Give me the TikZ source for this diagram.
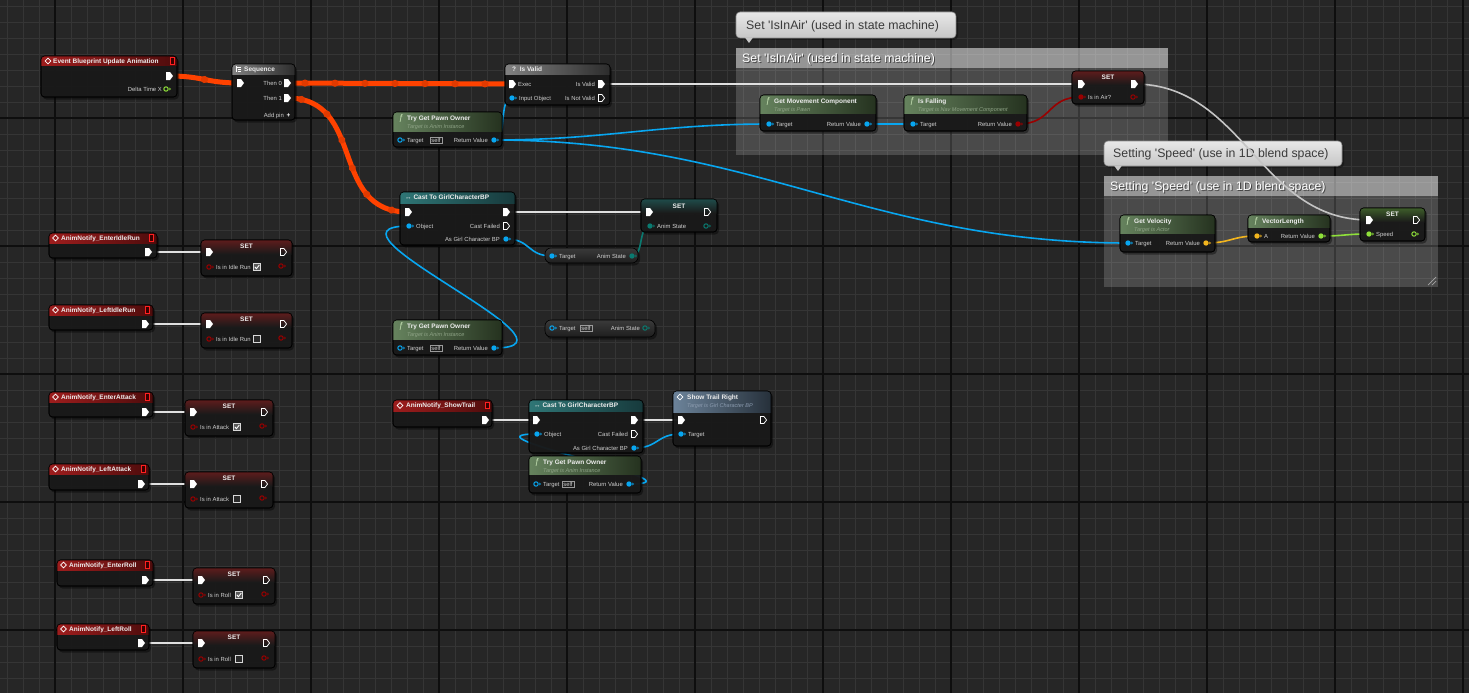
\documentclass[tikz,border=0pt]{standalone}
\usepackage{fontspec}
\setmainfont{Liberation Sans}
\usetikzlibrary{decorations.markings}
\pgfdeclarelayer{grid}
\pgfdeclarelayer{comments}
\pgfdeclarelayer{wires}
\pgfsetlayers{grid,comments,wires,main}

\definecolor{bgc}{HTML}{262626}
\definecolor{minorc}{HTML}{353535}
\definecolor{majorc}{HTML}{0E0E0E}
\definecolor{nodebg}{HTML}{1A1A1A}
\definecolor{titletext}{HTML}{EDEDED}
\definecolor{pintext}{HTML}{CFCFCF}
\definecolor{subtext}{HTML}{8FA487}
\definecolor{subblue}{HTML}{8C9CB0}
\definecolor{fnicon}{HTML}{C6E2B4}
\definecolor{hot}{HTML}{FF4200}
\definecolor{hotd}{HTML}{E23A00}
\definecolor{wirew}{HTML}{E0E0E0}
\definecolor{wireg}{HTML}{C4C4C4}
\definecolor{objblue}{HTML}{08A6F0}
\definecolor{boolred}{HTML}{9A0000}
\definecolor{floatgreen}{HTML}{8FE03A}
\definecolor{vecyellow}{HTML}{F2B51E}
\definecolor{byteteal}{HTML}{0A7A70}
\definecolor{evL}{HTML}{9E1D1D}
\definecolor{evR}{HTML}{4E0C0C}
\definecolor{fnL}{HTML}{66835E}
\definecolor{fnR}{HTML}{25321F}
\definecolor{grL}{HTML}{828282}
\definecolor{grR}{HTML}{2C2C2C}
\definecolor{caL}{HTML}{2F7676}
\definecolor{caR}{HTML}{173A3C}
\definecolor{blL}{HTML}{6C839A}
\definecolor{blR}{HTML}{26303A}
\definecolor{setred}{HTML}{5E1C1C}
\definecolor{setgreen}{HTML}{3E5E2A}
\definecolor{setteal}{HTML}{1F4C4A}
\definecolor{cTop}{HTML}{3A3A3A}
\definecolor{cBot}{HTML}{1E1E1E}
\definecolor{evsqc}{HTML}{FF2020}
\definecolor{evsqfill}{HTML}{3A0000}
\definecolor{selfc}{HTML}{9A9A9A}
\definecolor{chkc}{HTML}{D8D8D8}
\definecolor{chkbg}{HTML}{5A5A5A}
\definecolor{chkbg2}{HTML}{2A2A2A}
\definecolor{bubT}{HTML}{E8E8E8}
\definecolor{bubB}{HTML}{C6C6C6}
\definecolor{bubD}{HTML}{8E8E8E}
\definecolor{bubtext}{HTML}{3A3A3A}

\newcommand{\ttlfont}{\fontsize{6.5}{7}\selectfont\bfseries}
\newcommand{\pinfont}{\fontsize{5.9}{6.5}\selectfont}
\newcommand{\subfontx}{\fontsize{5.5}{6}\selectfont\itshape}
\newcommand{\fnfont}{\fontsize{8.5}{9}\selectfont\itshape}
\newcommand{\cmtfont}{\fontsize{12.3}{14}\selectfont}
\newcommand{\apo}{\textquotesingle}

\tikzset{
  nbody/.style={fill=nodebg, fill opacity=0.95, draw=black, line width=0.6, rounded corners=3.5pt, inner sep=0pt, outer sep=0pt},
  cbody/.style={top color=cTop, bottom color=cBot, draw=black, line width=0.6, rounded corners=6pt, inner sep=0pt, outer sep=0pt},
  ttlst/.style={font=\ttlfont, text=titletext, anchor=west, inner sep=0pt, text height=4.7pt, text depth=0pt},
  plbl/.style={font=\pinfont, text=pintext, inner sep=0pt, text height=4.2pt, text depth=0pt},
  subst/.style={font=\subfontx, text=subtext, anchor=west, inner sep=0pt, text height=4pt, text depth=0pt},
  fnst/.style={font=\fnfont, text=fnicon, inner sep=0pt},
  hEv/.style={left color=evL, right color=evR},
  hFn/.style={left color=fnL, right color=fnR},
  hGr/.style={left color=grL, right color=grR},
  hCa/.style={left color=caL, right color=caR},
  hBl/.style={left color=blL, right color=blR},
  hSr/.style={top color=setred, bottom color=nodebg},
  hSg/.style={top color=setgreen, bottom color=nodebg},
  hSt/.style={top color=setteal, bottom color=nodebg},
  wireX/.style={draw=wirew, line width=1.8},
  wireG/.style={draw=wireg, line width=1.6},
  wireO/.style={draw=objblue, line width=1.6},
  wireB/.style={draw=boolred, line width=1.6},
  wireY/.style={draw=vecyellow, line width=1.6},
  wireF/.style={draw=floatgreen, line width=1.6},
  wireT/.style={draw=byteteal, line width=1.6},
  hotw/.style={draw=hot, line width=5, line cap=round, postaction={decorate},
    decoration={markings, mark=between positions 0.08 and 0.95 step 30pt with {\fill[hotd] (0,0) circle (3.6);}}},
  cmtbody/.style={fill=white, fill opacity=0.17, inner sep=0pt, outer sep=0pt},
  cmthdr/.style={fill=white, fill opacity=0.42, inner sep=0pt, outer sep=0pt},
  cmttxt/.style={font=\cmtfont, text=white, anchor=west, inner sep=0pt, text height=8.8pt, text depth=0pt},
  bubble/.style={top color=bubT, bottom color=bubB, draw=bubD, line width=0.6, rounded corners=4pt, inner sep=0pt, outer sep=0pt},
  bubtxt/.style={font=\cmtfont, text=bubtext, anchor=west, inner sep=0pt, text height=8.8pt, text depth=0pt},
}

\newcommand{\bpbox}[7]{%
  \fill[black, opacity=0.4, rounded corners=4pt] ({#2+1.5},{#3+2}) rectangle ({#4+2},{#5+2.5});
  \node[nbody, anchor=north west, minimum width={#4-#2}, minimum height={#5-#3}] (#1) at (#2,#3) {};
  \begin{scope}
    \clip[rounded corners=3.5pt] (#2,#3) rectangle (#4,#5);
    \shade[#7] (#2,#3) rectangle (#4,{#3+#6});
  \end{scope}
  \draw[black, line width=0.6, rounded corners=3.5pt] (#2,#3) rectangle (#4,#5);}
\newcommand{\cbox}[5]{%
  \fill[black, opacity=0.4, rounded corners=6pt] ({#2+1.5},{#3+2}) rectangle ({#4+2},{#5+2.5});
  \node[cbody, anchor=north west, minimum width={#4-#2}, minimum height={#5-#3}] (#1) at (#2,#3) {};}
\newcommand{\pinX}[3]{\coordinate (#1) at (#2,#3);
  \fill[white] ({#2-3},{#3-4}) -- ({#2+1},{#3-4}) -- ({#2+4},{#3}) -- ({#2+1},{#3+4}) -- ({#2-3},{#3+4}) -- cycle;}
\newcommand{\pinXo}[3]{\coordinate (#1) at (#2,#3);
  \draw[white, line width=0.75, line join=round] ({#2-2.6},{#3-3.6}) -- ({#2+0.8},{#3-3.6}) -- ({#2+3.6},{#3}) -- ({#2+0.8},{#3+3.6}) -- ({#2-2.6},{#3+3.6}) -- cycle;}
\newcommand{\pinD}[4]{\coordinate (#1) at (#2,#3);
  \fill[#4] (#2,#3) circle (2.7);
  \fill[#4] ({#2+3.4},{#3-1.4}) -- ({#2+5},{#3}) -- ({#2+3.4},{#3+1.4}) -- cycle;}
\newcommand{\pinDo}[4]{\coordinate (#1) at (#2,#3);
  \draw[#4, line width=1] (#2,#3) circle (2.2);
  \fill[#4] ({#2+3.4},{#3-1.4}) -- ({#2+5},{#3}) -- ({#2+3.4},{#3+1.4}) -- cycle;}
\newcommand{\lblW}[4]{\node[plbl, anchor=west] (#1) at (#2,#3) {#4};}
\newcommand{\lblE}[4]{\node[plbl, anchor=east] (#1) at (#2,#3) {#4};}
\newcommand{\bptitle}[4]{\node[ttlst] (#1) at (#2,#3) {#4};}
\newcommand{\bpsetttl}[3]{\node[ttlst, anchor=center] (#1) at (#2,#3) {SET};}
\newcommand{\bpsub}[4]{\node[subst] (#1) at (#2,#3) {#4};}
\newcommand{\bpfn}[3]{\node[fnst] (#1) at (#2,#3) {ƒ};}
\newcommand{\evic}[3]{\coordinate (#1) at (#2,#3);
  \draw[white, line width=0.7] ({#2},{#3-2.8}) -- ({#2+2.8},{#3}) -- ({#2},{#3+2.8}) -- ({#2-2.8},{#3}) -- cycle;}
\newcommand{\evsq}[3]{\node[draw=evsqc, line width=0.8, fill=evsqfill, minimum width=4.5pt, minimum height=6.5pt, inner sep=0pt] (#1) at (#2,#3) {};}
\newcommand{\selfbox}[3]{\node[draw=selfc, line width=0.5, font=\pinfont, text=pintext, inner xsep=1.5pt, inner ysep=1pt, text height=4.2pt, text depth=0pt] (#1) at (#2,#3) {self};}
\newcommand{\chkon}[3]{\node[draw=chkc, fill=chkbg, line width=0.7, minimum size=7pt, inner sep=0pt] (#1) at (#2,#3) {};
  \draw[white, line width=0.9] ({#2-2.2},{#3-0.2}) -- ({#2-0.6},{#3+1.7}) -- ({#2+2.3},{#3-2});}
\newcommand{\chkoff}[3]{\node[draw=chkc, fill=chkbg2, line width=0.7, minimum size=7pt, inner sep=0pt] (#1) at (#2,#3) {};}

\begin{document}
\begin{tikzpicture}[x=1pt, y=-1pt]
\useasboundingbox (0,0) rectangle (1469,693);

% ---------------- grid ----------------
\begin{pgfonlayer}{grid}
\fill[bgc] (0,0) rectangle (1469,693);
\foreach \gx in {7,23,...,1469} \draw[minorc, line width=0.9] (\gx,0) -- (\gx,693);
\foreach \gy in {6,22,...,693} \draw[minorc, line width=0.9] (0,\gy) -- (1469,\gy);
\foreach \gx in {55,183,...,1469} \draw[majorc, line width=1.4] (\gx,0) -- (\gx,693);
\foreach \gy in {118,246,...,693} \draw[majorc, line width=1.4] (0,\gy) -- (1469,\gy);
\end{pgfonlayer}

% ---------------- comments ----------------
\begin{pgfonlayer}{comments}
\node[cmtbody, anchor=north west, minimum width=432pt, minimum height=107pt] (c1) at (736,48) {};
\node[cmthdr, anchor=north west, minimum width=432pt, minimum height=20pt] (c1h) at (736,48) {};
\node[cmttxt, text=black, text opacity=0.55] (c1ts) at (743,59) {Set \apo IsInAir\apo\ (used in state machine)};
\node[cmttxt] (c1t) at (742,58) {Set \apo IsInAir\apo\ (used in state machine)};
\fill[black, opacity=0.3, rounded corners=4pt] (737.5,14) rectangle (958,40);
\node[bubble, anchor=north west, minimum width=220pt, minimum height=26pt] (c1b) at (736,12) {};
\fill[bubB] (745,37.5) -- (753,37.5) -- (749,43) -- cycle;
\node[bubtxt] (c1bt) at (746,25) {Set \apo IsInAir\apo\ (used in state machine)};

\node[cmtbody, anchor=north west, minimum width=334pt, minimum height=111pt] (c2) at (1104,176) {};
\node[cmthdr, anchor=north west, minimum width=334pt, minimum height=20pt] (c2h) at (1104,176) {};
\node[cmttxt, text=black, text opacity=0.55] (c2ts) at (1111,187) {Setting \apo Speed\apo\ (use in 1D blend space)};
\node[cmttxt] (c2t) at (1110,186) {Setting \apo Speed\apo\ (use in 1D blend space)};
\draw[white, opacity=0.5, line width=0.7] (1428,285) -- (1436,277) (1432,285) -- (1436,281);
\fill[black, opacity=0.3, rounded corners=4pt] (1105.5,143) rectangle (1344,168);
\node[bubble, anchor=north west, minimum width=238pt, minimum height=25pt] (c2b) at (1104,141) {};
\fill[bubB] (1114,165.5) -- (1122,165.5) -- (1118,171) -- cycle;
\node[bubtxt] (c2bt) at (1113,153.5) {Setting \apo Speed\apo\ (use in 1D blend space)};
\end{pgfonlayer}

% ---------------- Event Blueprint Update Animation ----------------
\bpbox{ev}{41}{56}{177}{97}{10}{hEv}
\evic{ev-ic}{48}{61}
\bptitle{ev-t}{53}{61}{Event Blueprint Update Animation}
\evsq{ev-sq}{172.5}{61}
\pinX{ev-x}{169}{76}
\lblE{ev-dtl}{162}{89}{Delta Time X}
\pinDo{ev-dt}{166}{89}{floatgreen}

% ---------------- Sequence ----------------
\bpbox{seq}{232}{64}{295}{120}{10}{hGr}
\draw[white, line width=0.6] (236,66.5) -- (236,71.5) (236,67) -- (241,67) (237.5,69) -- (241,69) (237.5,71) -- (241,71);
\bptitle{seq-t}{244}{69}{Sequence}
\pinX{seq-in}{240}{83}
\lblE{seq-t0l}{282}{83}{Then 0}
\pinX{seq-t0}{287}{83}
\lblE{seq-t1l}{282}{98}{Then 1}
\pinX{seq-t1}{287}{98}
\lblE{seq-apl}{284}{115}{Add pin}
\node[ttlst, anchor=center, text=white] (seq-plus) at (288.5,115) {+};

% ---------------- Is Valid ----------------
\bpbox{isv}{505}{64}{610}{105}{10}{hGr}
\bptitle{isv-t}{512}{69}{?\ \ Is Valid}
\pinX{isv-in}{512}{84}
\lblW{isv-inl}{518}{84}{Exec}
\pinD{isv-obj}{512}{98}{objblue}
\lblW{isv-objl}{519}{98}{Input Object}
\lblE{isv-vl}{595}{84}{Is Valid}
\pinX{isv-v}{601}{84}
\lblE{isv-nvl}{595}{98}{Is Not Valid}
\pinXo{isv-nv}{601}{98}

% ---------------- Try Get Pawn Owner 1 ----------------
\bpbox{tg1}{393}{112}{502}{147}{19}{hFn}
\bpfn{tg1-ic}{401}{118}
\bptitle{tg1-t}{407}{118}{Try Get Pawn Owner}
\bpsub{tg1-s}{407}{126.5}{Target is Anim Instance}
\pinDo{tg1-tg}{400}{140}{objblue}
\lblW{tg1-tgl}{407}{140}{Target}
\selfbox{tg1-self}{436}{140}
\lblE{tg1-rvl}{488}{140}{Return Value}
\pinD{tg1-rv}{494}{140}{objblue}

% ---------------- Cast To GirlCharacterBP 1 ----------------
\bpbox{cast1}{400}{192}{515}{245}{11}{hCa}
\bptitle{cast1-t}{405}{197.5}{↔ Cast To GirlCharacterBP}
\pinX{cast1-in}{408}{212}
\pinX{cast1-out}{506}{212}
\pinD{cast1-obj}{409}{226}{objblue}
\lblW{cast1-objl}{416}{226}{Object}
\lblE{cast1-cfl}{500}{226}{Cast Failed}
\pinXo{cast1-cf}{506}{226}
\lblE{cast1-agl}{500}{239}{As Girl Character BP}
\pinD{cast1-ag}{506}{239}{objblue}

% ---------------- SET Anim State ----------------
\bpbox{setas}{641}{199}{717}{232}{14}{hSt}
\bpsetttl{setas-t}{679}{206}
\pinX{setas-in}{649}{212}
\pinXo{setas-out}{707}{212}
\pinD{setas-v}{650}{226}{byteteal}
\lblW{setas-vl}{657}{226}{Anim State}
\pinDo{setas-o}{706}{226}{byteteal}

% ---------------- Get Anim State ----------------
\cbox{gas}{545}{248}{638}{263}
\pinD{gas-tg}{552}{256}{objblue}
\lblW{gas-tgl}{559}{256}{Target}
\lblE{gas-asl}{626}{256}{Anim State}
\pinD{gas-as}{632}{256}{byteteal}

% ---------------- Try Get Pawn Owner 2 ----------------
\bpbox{tg2}{393}{320}{502}{355}{19}{hFn}
\bpfn{tg2-ic}{401}{326}
\bptitle{tg2-t}{407}{326}{Try Get Pawn Owner}
\bpsub{tg2-s}{407}{334.5}{Target is Anim Instance}
\pinDo{tg2-tg}{400}{348}{objblue}
\lblW{tg2-tgl}{407}{348}{Target}
\selfbox{tg2-self}{436}{348}
\lblE{tg2-rvl}{488}{348}{Return Value}
\pinD{tg2-rv}{494}{348}{objblue}

% ---------------- Get Anim State (self) ----------------
\cbox{gas2}{545}{320}{655}{337}
\pinDo{gas2-tg}{552}{328}{objblue}
\lblW{gas2-tgl}{559}{328}{Target}
\selfbox{gas2-self}{586}{328}
\lblE{gas2-asl}{640}{328}{Anim State}
\pinDo{gas2-as}{645}{328}{byteteal}

% ---------------- Get Movement Component ----------------
\bpbox{gmc}{760}{95}{876}{131}{18}{hFn}
\bpfn{gmc-ic}{768}{101}
\bptitle{gmc-t}{774}{101}{Get Movement Component}
\bpsub{gmc-s}{774}{109.5}{Target is Pawn}
\pinD{gmc-tg}{769}{124}{objblue}
\lblW{gmc-tgl}{776}{124}{Target}
\lblE{gmc-rvl}{861}{124}{Return Value}
\pinD{gmc-rv}{867}{124}{objblue}

% ---------------- Is Falling ----------------
\bpbox{isf}{904}{95}{1027}{131}{18}{hFn}
\bpfn{isf-ic}{912}{101}
\bptitle{isf-t}{918}{101}{Is Falling}
\bpsub{isf-s}{918}{109.5}{Target is Nav Movement Component}
\pinD{isf-tg}{913}{124}{objblue}
\lblW{isf-tgl}{920}{124}{Target}
\lblE{isf-rvl}{1012}{124}{Return Value}
\pinD{isf-rv}{1018}{124}{boolred}

% ---------------- SET Is in Air ----------------
\bpbox{setair}{1072}{71}{1144}{104}{14}{hSr}
\bpsetttl{setair-t}{1108}{77.5}
\pinX{setair-in}{1081}{84}
\pinX{setair-out}{1134}{84}
\pinD{setair-v}{1081}{97}{boolred}
\lblW{setair-vl}{1088}{97}{Is in Air?}
\pinDo{setair-o}{1133}{97}{boolred}

% ---------------- Get Velocity ----------------
\bpbox{gv}{1120}{215}{1215}{252}{18}{hFn}
\bpfn{gv-ic}{1128}{221}
\bptitle{gv-t}{1134}{221}{Get Velocity}
\bpsub{gv-s}{1134}{229.5}{Target is Actor}
\pinD{gv-tg}{1128}{243}{objblue}
\lblW{gv-tgl}{1135}{243}{Target}
\lblE{gv-rvl}{1200}{243}{Return Value}
\pinD{gv-rv}{1206}{243}{vecyellow}

% ---------------- VectorLength ----------------
\bpbox{vl}{1248}{215}{1330}{242}{12}{hFn}
\bpfn{vl-ic}{1256}{221}
\bptitle{vl-t}{1262}{221}{VectorLength}
\pinD{vl-a}{1257}{236}{vecyellow}
\lblW{vl-al}{1264}{236}{A}
\lblE{vl-rvl}{1315}{236}{Return Value}
\pinD{vl-rv}{1321}{236}{floatgreen}

% ---------------- SET Speed ----------------
\bpbox{setsp}{1360}{208}{1425}{241}{14}{hSg}
\bpsetttl{setsp-t}{1392.5}{214.5}
\pinX{setsp-in}{1369}{220}
\pinXo{setsp-out}{1416}{220}
\pinD{setsp-v}{1369}{234}{floatgreen}
\lblW{setsp-vl}{1376}{234}{Speed}
\pinDo{setsp-o}{1414}{234}{floatgreen}

% ---------------- AnimNotify_EnterIdleRun ----------------
\bpbox{n1}{49}{233}{157}{258}{10}{hEv}
\evic{n1-ic}{55.5}{238}
\bptitle{n1-t}{61}{238}{AnimNotify\_EnterIdleRun}
\evsq{n1-sq}{151.5}{238}
\pinX{n1-x}{148}{252}
\bpbox{s1}{201}{240}{292}{276}{14}{hSr}
\bpsetttl{s1-t}{246.5}{246.5}
\pinX{s1-in}{209}{252}
\pinXo{s1-out}{283}{252}
\pinDo{s1-b}{209}{267}{boolred}
\lblW{s1-bl}{216}{267}{Is in Idle Run}
\chkon{s1-c}{257}{267}
\pinDo{s1-o}{281}{266}{boolred}

% ---------------- AnimNotify_LeftIdleRun ----------------
\bpbox{n2}{49}{305}{153}{330}{10}{hEv}
\evic{n2-ic}{55.5}{310}
\bptitle{n2-t}{61}{310}{AnimNotify\_LeftIdleRun}
\evsq{n2-sq}{147.5}{310}
\pinX{n2-x}{145}{324}
\bpbox{s2}{201}{313}{292}{348}{14}{hSr}
\bpsetttl{s2-t}{246.5}{319}
\pinX{s2-in}{209}{324}
\pinXo{s2-out}{283}{324}
\pinDo{s2-b}{209}{339}{boolred}
\lblW{s2-bl}{216}{339}{Is in Idle Run}
\chkoff{s2-c}{257}{339}
\pinDo{s2-o}{281}{338}{boolred}

% ---------------- AnimNotify_EnterAttack ----------------
\bpbox{n3}{49}{392}{153}{417}{10}{hEv}
\evic{n3-ic}{55.5}{397}
\bptitle{n3-t}{61}{397}{AnimNotify\_EnterAttack}
\evsq{n3-sq}{147.5}{397}
\pinX{n3-x}{145}{412}
\bpbox{s3}{185}{400}{273}{436}{14}{hSr}
\bpsetttl{s3-t}{229}{406.5}
\pinX{s3-in}{193}{412}
\pinXo{s3-out}{264}{412}
\pinDo{s3-b}{193}{427}{boolred}
\lblW{s3-bl}{200}{427}{Is in Attack}
\chkon{s3-c}{237}{427}
\pinDo{s3-o}{262}{426}{boolred}

% ---------------- AnimNotify_LeftAttack ----------------
\bpbox{n4}{49}{464}{149}{490}{10}{hEv}
\evic{n4-ic}{55.5}{469}
\bptitle{n4-t}{61}{469}{AnimNotify\_LeftAttack}
\evsq{n4-sq}{143.5}{469}
\pinX{n4-x}{141}{484}
\bpbox{s4}{185}{472}{273}{508}{14}{hSr}
\bpsetttl{s4-t}{229}{478.5}
\pinX{s4-in}{193}{484}
\pinXo{s4-out}{264}{484}
\pinDo{s4-b}{193}{499}{boolred}
\lblW{s4-bl}{200}{499}{Is in Attack}
\chkoff{s4-c}{237}{499}
\pinDo{s4-o}{262}{498}{boolred}

% ---------------- AnimNotify_EnterRoll ----------------
\bpbox{n5}{57}{560}{153}{586}{10}{hEv}
\evic{n5-ic}{63.5}{565}
\bptitle{n5-t}{69}{565}{AnimNotify\_EnterRoll}
\evsq{n5-sq}{147.5}{565}
\pinX{n5-x}{145}{580}
\bpbox{s5}{193}{568}{275}{604}{14}{hSr}
\bpsetttl{s5-t}{234}{574.5}
\pinX{s5-in}{201}{580}
\pinXo{s5-out}{266}{580}
\pinDo{s5-b}{201}{595}{boolred}
\lblW{s5-bl}{208}{595}{Is in Roll}
\chkon{s5-c}{239}{595}
\pinDo{s5-o}{264}{594}{boolred}

% ---------------- AnimNotify_LeftRoll ----------------
\bpbox{n6}{57}{624}{149}{650}{10}{hEv}
\evic{n6-ic}{63.5}{629}
\bptitle{n6-t}{69}{629}{AnimNotify\_LeftRoll}
\evsq{n6-sq}{143.5}{629}
\pinX{n6-x}{141}{643}
\bpbox{s6}{193}{631}{275}{668}{14}{hSr}
\bpsetttl{s6-t}{234}{637.5}
\pinX{s6-in}{201}{643}
\pinXo{s6-out}{266}{643}
\pinDo{s6-b}{201}{659}{boolred}
\lblW{s6-bl}{208}{659}{Is in Roll}
\chkoff{s6-c}{239}{659}
\pinDo{s6-o}{264}{658}{boolred}

% ---------------- AnimNotify_ShowTrail ----------------
\bpbox{n7}{393}{400}{492}{427}{11}{hEv}
\evic{n7-ic}{400}{405.5}
\bptitle{n7-t}{406}{405.5}{AnimNotify\_ShowTrail}
\evsq{n7-sq}{487.5}{405.5}
\pinX{n7-x}{485}{420}

% ---------------- Cast To GirlCharacterBP 2 ----------------
\bpbox{cast2}{529}{400}{643}{453}{11}{hCa}
\bptitle{cast2-t}{534}{405.5}{↔ Cast To GirlCharacterBP}
\pinX{cast2-in}{536}{420}
\pinX{cast2-out}{634}{420}
\pinD{cast2-obj}{537}{434}{objblue}
\lblW{cast2-objl}{544}{434}{Object}
\lblE{cast2-cfl}{628}{434}{Cast Failed}
\pinXo{cast2-cf}{634}{434}
\lblE{cast2-agl}{628}{448}{As Girl Character BP}
\pinD{cast2-ag}{634}{448}{objblue}

% ---------------- Show Trail Right ----------------
\bpbox{str}{673}{391}{771}{446}{21}{hBl}
\evic{str-ic}{680}{397}
\bptitle{str-t}{687}{397}{Show Trail Right}
\node[subst, text=subblue] (str-s) at (687,405.5) {Target is Girl Character BP};
\pinX{str-in}{681}{420}
\pinXo{str-out}{763}{420}
\pinD{str-tg}{681}{434}{objblue}
\lblW{str-tgl}{688}{434}{Target}

% ---------------- Try Get Pawn Owner 3 ----------------
\bpbox{tg3}{529}{456}{641}{493}{18}{hFn}
\bpfn{tg3-ic}{537}{462}
\bptitle{tg3-t}{543}{462}{Try Get Pawn Owner}
\bpsub{tg3-s}{543}{470.5}{Target is Anim Instance}
\pinDo{tg3-tg}{536}{484}{objblue}
\lblW{tg3-tgl}{543}{484}{Target}
\selfbox{tg3-self}{568}{484}
\lblE{tg3-rvl}{623}{484}{Return Value}
\pinD{tg3-rv}{629}{484}{objblue}

% ---------------- wires ----------------
\begin{pgfonlayer}{wires}
\draw[hotw] (ev-x) .. controls +(35,0) and +(-35,0) .. (seq-in);
\draw[hotw] (seq-t0) -- (isv-in);
\draw[hotw] (seq-t1) .. controls +(80,0) and +(-80,0) .. (cast1-in);
\draw[wireX] (isv-v) -- (setair-in);
\draw[wireG] (setair-out) .. controls +(110,0) and +(-110,0) .. (setsp-in);
\draw[wireO] (tg1-rv) .. controls +(14,0) and +(-14,0) .. (isv-obj);
\draw[wireO] (tg1-rv) .. controls +(110,0) and +(-110,0) .. (gmc-tg);
\draw[wireO] (tg1-rv) .. controls +(260,0) and +(-260,0) .. (gv-tg);
\draw[wireO] (gmc-rv) -- (isf-tg);
\draw[wireB] (isf-rv) .. controls +(35,0) and +(-35,0) .. (setair-v);
\draw[wireY] (gv-rv) .. controls +(25,0) and +(-25,0) .. (vl-a);
\draw[wireF] (vl-rv) .. controls +(25,0) and +(-25,0) .. (setsp-v);
\draw[wireX] (cast1-out) -- (setas-in);
\draw[wireO] (cast1-ag) .. controls +(25,0) and +(-25,0) .. (gas-tg);
\draw[wireT] (gas-as) .. controls +(12,0) and +(-12,0) .. (setas-v);
\draw[wireO] (tg2-rv) .. controls +(105,0) and +(-105,0) .. (cast1-obj);
\draw[wireX] (n1-x) -- (s1-in);
\draw[wireX] (n2-x) -- (s2-in);
\draw[wireX] (n3-x) -- (s3-in);
\draw[wireX] (n4-x) -- (s4-in);
\draw[wireX] (n5-x) -- (s5-in);
\draw[wireX] (n6-x) -- (s6-in);
\draw[wireX] (n7-x) -- (cast2-in);
\draw[wireX] (cast2-out) -- (str-in);
\draw[wireO] (cast2-ag) .. controls +(25,0) and +(-25,0) .. (str-tg);
\draw[wireO] (tg3-rv) .. controls +(85,0) and +(-85,0) .. (cast2-obj);
\end{pgfonlayer}
\end{tikzpicture}
\end{document}
